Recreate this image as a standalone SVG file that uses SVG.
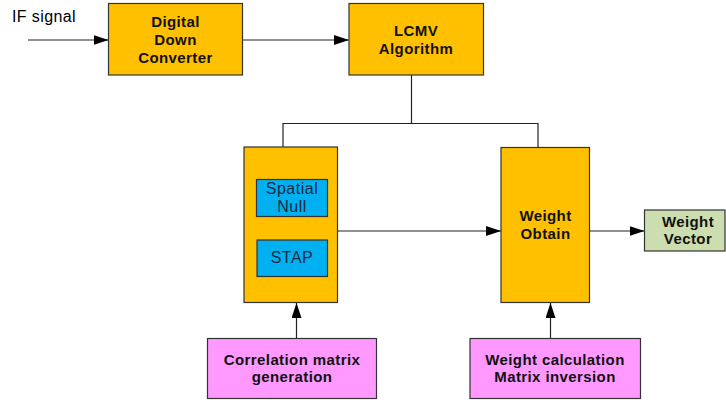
<svg xmlns="http://www.w3.org/2000/svg" width="726" height="400" viewBox="0 0 726 400">
<defs>
<marker id="ah" markerUnits="userSpaceOnUse" markerWidth="16" markerHeight="10" refX="15" refY="5" orient="auto">
<path d="M0,0 L15,5 L0,10 Z" fill="#000"/>
</marker>
<style>
.box{stroke:#333;stroke-width:1.2}
.org{fill:#FFC000}
.blu{fill:#00B0F0}
.pnk{fill:#FF99FF}
.grn{fill:#CCDDAF}
.t{font-family:"Liberation Sans",Arial,sans-serif;font-size:15px;font-weight:bold;letter-spacing:0.4px;fill:#111;text-anchor:middle}
.ti{font-family:"Liberation Sans",Arial,sans-serif;font-size:16px;letter-spacing:0.5px;fill:#1a2a40;text-anchor:middle}
.ln{stroke:#222;stroke-width:1.2;fill:none}
</style>
</defs>
<rect width="726" height="400" fill="#fff"/>
<g id="connectors">
<line class="ln" x1="28" y1="40" x2="108.5" y2="40" marker-end="url(#ah)"/>
<line class="ln" x1="242.5" y1="40" x2="349" y2="40" marker-end="url(#ah)"/>
<polyline class="ln" points="411.5,75 411.5,123.5"/>
<polyline class="ln" points="283,147 283,123.5 538,123.5 538,147"/>
<line class="ln" x1="338" y1="231" x2="501" y2="231" marker-end="url(#ah)"/>
<line class="ln" x1="590" y1="231" x2="644.5" y2="231" marker-end="url(#ah)"/>
<line class="ln" x1="296.5" y1="338" x2="296.5" y2="303" marker-end="url(#ah)"/>
<line class="ln" x1="550.5" y1="338" x2="550.5" y2="303" marker-end="url(#ah)"/>
</g>
<g id="if-label"><text x="12" y="22" style="font-family:'Liberation Sans',Arial,sans-serif;font-size:16px;letter-spacing:0.4px" fill="#000">IF signal</text></g>
<g id="ddc">
<rect class="box org" x="108.5" y="3.5" width="134" height="71.5"/>
<text class="t" x="175.5" y="27">Digital</text>
<text class="t" x="175.5" y="45">Down</text>
<text class="t" x="175.5" y="63">Converter</text>
</g>
<g id="lcmv">
<rect class="box org" x="349" y="3.5" width="134.5" height="71.5"/>
<text class="t" x="416" y="36">LCMV</text>
<text class="t" x="416" y="54">Algorithm</text>
</g>
<g id="processing">
<rect class="box org" x="244" y="147" width="93.5" height="155.5"/>
</g>
<g id="spatial-null">
<rect class="box blu" x="256.5" y="179.5" width="71" height="37"/>
<text class="ti" x="292" y="194">Spatial</text>
<text class="ti" x="292" y="211.5">Null</text>
</g>
<g id="stap">
<rect class="box blu" x="257" y="240" width="70.5" height="36.5"/>
<text class="ti" x="292" y="263">STAP</text>
</g>
<g id="weight-obtain">
<rect class="box org" x="501" y="147.5" width="88.5" height="155"/>
<text class="t" x="545.5" y="221">Weight</text>
<text class="t" x="545.5" y="239">Obtain</text>
</g>
<g id="weight-vector">
<rect class="box grn" x="644.5" y="210" width="80.5" height="41"/>
<text class="t" x="688" y="227">Weight</text>
<text class="t" x="688" y="244">Vector</text>
</g>
<g id="correlation">
<rect class="box pnk" x="207.5" y="338.5" width="169" height="60"/>
<text class="t" x="292" y="365">Correlation matrix</text>
<text class="t" x="292" y="382">generation</text>
</g>
<g id="weight-calc">
<rect class="box pnk" x="470" y="338.5" width="170.5" height="60"/>
<text class="t" x="555" y="365">Weight calculation</text>
<text class="t" x="555" y="382">Matrix inversion</text>
</g>
</svg>
